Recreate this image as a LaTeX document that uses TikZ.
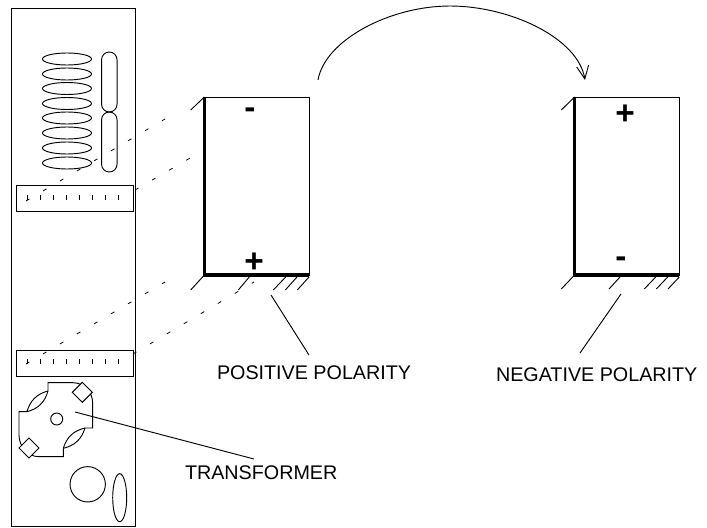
\documentclass[tikz,border=0pt]{standalone}
\usepackage{fontspec}
\setmainfont{Liberation Sans}
\usetikzlibrary{arrows.meta, shapes.geometric}
\begin{document}
\begin{tikzpicture}[x=0.75pt, y=-0.75pt, line width=0.7pt, line join=miter,
	every node/.style={inner sep=0pt, outer sep=0pt},
	coil/.style={draw, ellipse, minimum width=36.75pt, minimum height=9pt},
	pill/.style={draw, rounded corners=5.8pt, minimum width=11.6pt, minimum height=45pt},
	scalebar/.style={draw, minimum width=87.75pt, minimum height=20pt},
	polepanel/.style={draw, minimum width=78.6pt, minimum height=133.5pt},
	clamp/.style={draw, diamond, fill=white, minimum width=15pt, minimum height=15pt},
	hole/.style={draw, circle},
	dashline/.style={dash pattern=on 3pt off 11.8pt, line width=0.6pt},
	polesign/.style={font=\bfseries\fontsize{25}{25}\selectfont},
	caption/.style={anchor=base west, font=\fontsize{14.8}{18}\selectfont}]
	
	\useasboundingbox (0, 0) rectangle (707, 528);
	
	% Cabinet
	\node[draw, line width=0.9pt, minimum width=93pt, minimum height=388.5pt] (cabinet) at (73.2, 267.5) {};
	
	% Coils
	\node[coil] (coil1) at (67, 59) {};
	\node[coil] (coil2) at (67, 74) {};
	\node[coil] (coil3) at (67, 88.5) {};
	\node[coil] (coil4) at (67, 103.5) {};
	\node[coil] (coil5) at (67, 118) {};
	\node[coil] (coil6) at (67, 133) {};
	\node[coil] (coil7) at (67, 148) {};
	\node[coil] (coil8) at (67, 163) {};
	\node[pill] (pill1) at (109.3, 82) {};
	\node[pill] (pill2) at (109.3, 142) {};
	
	% Scales
	\node[scalebar] (upperscale) at (74.5, 198.5) {};
	\node[scalebar] (lowerscale) at (74.5, 363.5) {};
	\foreach \tickx in {27, 40, 53, 66, 79, 92, 105, 118} {
		\draw (\tickx, 195) -- (\tickx, 200);
		\draw (\tickx, 359) -- (\tickx, 364);
	}
	
	% Transformer core
	\draw (48, 391) -- (48, 382.7) -- (73, 382.7) .. controls (85, 383) and (92.7, 392) .. (92.7, 404) -- (92.7, 428) -- (85, 428);
	\draw (85, 428) to[bend left=30] (63.3, 448.3);
	\draw (85, 428) to[bend right=30] (63.3, 448.3);
	\draw (63.3, 448.3) -- (63.3, 456.7) -- (38, 456.7) .. controls (27, 456) and (19, 446) .. (19, 435) -- (19, 411.7) -- (27, 411.7);
	\draw (27, 411.7) to[bend left=30] (48, 391);
	\draw (27, 411.7) to[bend right=30] (48, 391);
	\node[clamp] (clamp1) at (82.3, 392.3) {};
	\node[clamp] (clamp2) at (29, 448) {};
	\node[hole, minimum size=9pt] (corehole) at (56.7, 419) {};
	\node[hole, minimum size=26.5pt] (bighole) at (87.7, 484.3) {};
	\node[draw, ellipse, minimum width=10.5pt, minimum height=36pt] (sideoval) at (119.7, 497.7) {};
	
	% Polarity panels
	\node[polepanel] (positive) at (256.8, 186) {};
	\node[polepanel] (negative) at (627, 186) {};
	\draw[line width=2.6pt] (positive.north west) -- (positive.south west) -- (positive.south east);
	\draw[line width=2.6pt] (negative.north west) -- (negative.south west) -- (negative.south east);
	\node[polesign] (posminus) at (250, 113) {-};
	\node[polesign] (posplus) at (254, 263) {+};
	\node[polesign] (negplus) at (625, 115) {+};
	\node[polesign] (negminus) at (621, 262) {-};
	
	% Projection lines
	\draw[dashline] (26, 201) -- (165, 119);
	\draw[dashline] (135, 190) -- (204, 150);
	\draw[dashline] (26, 364) -- (165, 282);
	\draw[dashline] (133, 354) -- (254, 282);
	
	% Hatching
	\draw (190.7, 110) -- (positive.north west);
	\draw (190.7, 290) -- (positive.south west);
	\draw (238.3, 290) -- (249.3, 277);
	\draw (273.3, 290) -- (285.7, 277);
	\draw (285.3, 290) -- (297, 277);
	\draw (297.3, 290) -- (309, 277);
	\draw (561.3, 110) -- (negative.north west);
	\draw (561.3, 289) -- (negative.south west);
	\draw (609, 289) -- (620, 277);
	\draw (644.3, 289) -- (655.7, 277);
	\draw (656.3, 289) -- (667.7, 277);
	\draw (668, 289) -- (679.3, 277);
	
	% Swap arrow
	\draw[-{Straight Barb[length=9.75pt, width=9pt]}] (318, 80) .. controls (325, 40) and (390, 6) .. (450, 6) .. controls (510, 6) and (578, 38) .. (585, 80);
	
	% Labels
	\node[caption] (poslabel) at (217, 379) {POSITIVE POLARITY};
	\node[caption] (neglabel) at (496, 381) {NEGATIVE POLARITY};
	\node[caption] (translabel) at (185, 479) {TRANSFORMER};
	\coordinate (posleader) at (271, 295);
	\coordinate (posfoot) at (309, 355);
	\coordinate (negleader) at (621, 294);
	\coordinate (negfoot) at (580, 353);
	\coordinate (transleader) at (75, 412);
	\coordinate (transfoot) at (254, 459);
	\draw (posleader) -- (posfoot);
	\draw (negleader) -- (negfoot);
	\draw (transleader) -- (transfoot);
\end{tikzpicture}
\end{document}
